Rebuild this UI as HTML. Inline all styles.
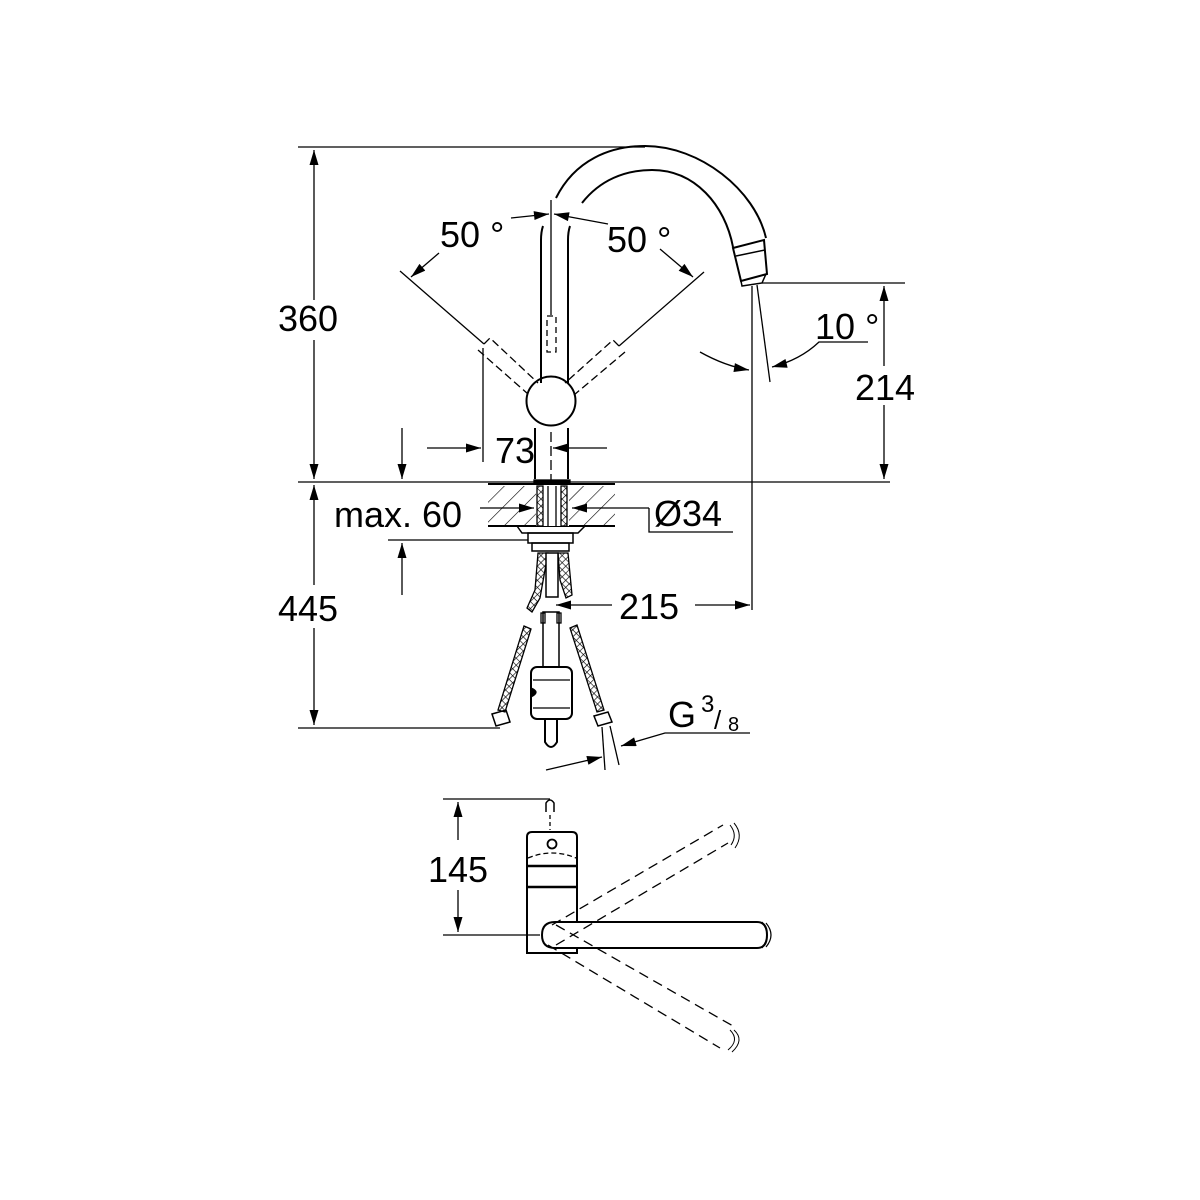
<!DOCTYPE html>
<html><head><meta charset="utf-8"><style>
html,body{margin:0;padding:0;background:#fff}
svg{display:block}
text{font-family:"Liberation Sans",sans-serif;fill:#000}
</style></head><body>
<svg width="1200" height="1200" viewBox="0 0 1200 1200" xmlns="http://www.w3.org/2000/svg">
<defs>
<marker id="a" viewBox="0 0 10 6" refX="10" refY="3" markerWidth="20" markerHeight="9" markerUnits="userSpaceOnUse" orient="auto"><path d="M0,0L10,3L0,6z" fill="#000"/></marker>
<pattern id="hatch" width="14" height="14" patternUnits="userSpaceOnUse" patternTransform="rotate(45)"><line x1="0" y1="0" x2="0" y2="14" stroke="#000" stroke-width="1.2"/></pattern>
<pattern id="mesh" width="5" height="5" patternUnits="userSpaceOnUse" patternTransform="rotate(45)"><rect width="5" height="5" fill="#fff"/><path d="M0,0H5M0,0V5" stroke="#000" stroke-width="1.3"/></pattern>
</defs>
<g fill="none" stroke="#000" stroke-width="1.3">
<line x1="298" y1="147" x2="645" y2="147"/>
<line x1="298" y1="482" x2="890" y2="482"/>
<line x1="314" y1="300" x2="314" y2="150" marker-end="url(#a)"/>
<line x1="314" y1="340" x2="314" y2="479" marker-end="url(#a)"/>
<line x1="314" y1="585" x2="314" y2="485" marker-end="url(#a)"/>
<line x1="314" y1="628" x2="314" y2="725" marker-end="url(#a)"/>
<line x1="298" y1="728" x2="500" y2="728"/>
<line x1="762" y1="283" x2="905" y2="283"/>
<line x1="884" y1="366" x2="884" y2="286" marker-end="url(#a)"/>
<line x1="884" y1="405" x2="884" y2="479" marker-end="url(#a)"/>
<path d="M556,198 C575,160 610,146 645,146 C700,146 755,190 766,238" stroke-width="2"/>
<path d="M582,203 C600,180 625,170 652,170 C695,170 725,205 733,247" stroke-width="2"/>
<path d="M733,248 L764,240 L767,274 L741,281 Z" stroke-width="2"/>
<line x1="736" y1="256" x2="765" y2="250" stroke-width="1.5"/>
<path d="M741,281 L742,286 L762,283 L766,274" stroke-width="1.5"/>
<path d="M541,383 L541,240 Q541,232 543,226" stroke-width="2"/>
<path d="M568,383 L568,240 Q568,232 570,226" stroke-width="2"/>
<line x1="551" y1="200" x2="551" y2="315"/>
<rect x="547" y="316" width="9" height="36" stroke-dasharray="6,4"/>
<line x1="535" y1="428" x2="535" y2="479" stroke-width="2"/>
<line x1="568" y1="428" x2="568" y2="479" stroke-width="2"/>
<line x1="551" y1="432" x2="551" y2="500" stroke-dasharray="10,4"/>
<circle cx="551" cy="401" r="24.5" stroke-width="2"/>
<line x1="400" y1="271" x2="484" y2="344"/>
<line x1="704" y1="272" x2="619" y2="346"/>
<path d="M484,344 L490,338 L538,383 M478,350 L528,394" stroke-dasharray="8,4"/>
<path d="M619,346 L613,340 L565,383 M625,352 L574,395" stroke-dasharray="8,4"/>
<line x1="483" y1="348" x2="483" y2="462"/>
<line x1="511" y1="218" x2="549" y2="214" marker-end="url(#a)"/>
<line x1="608" y1="224" x2="554" y2="214" marker-end="url(#a)"/>
<line x1="439" y1="253" x2="411" y2="277" marker-end="url(#a)"/>
<line x1="660" y1="249" x2="693" y2="277" marker-end="url(#a)"/>
<line x1="752" y1="286" x2="752" y2="610"/>
<line x1="757" y1="285" x2="770" y2="382"/>
<path d="M700,352 Q725,366 749,370" marker-end="url(#a)"/>
<path d="M868,342 L819,342 Q800,360 772,367" marker-end="url(#a)"/>
<line x1="427" y1="448" x2="481" y2="448" marker-end="url(#a)"/>
<line x1="607" y1="448" x2="553" y2="448" marker-end="url(#a)"/>
<line x1="402" y1="428" x2="402" y2="479" marker-end="url(#a)"/>
<rect x="488" y="486" width="127" height="40" fill="url(#hatch)" stroke="none"/>
<line x1="488" y1="484" x2="615" y2="484" stroke-width="2"/>
<line x1="488" y1="526" x2="615" y2="526" stroke-width="2"/>
<rect x="534" y="480" width="36" height="4" fill="#000"/>
<rect x="536" y="486" width="33" height="40" fill="#fff" stroke="none"/>
<rect x="537" y="486" width="6" height="40" fill="url(#mesh)"/>
<rect x="561" y="486" width="6" height="40" fill="url(#mesh)"/>
<line x1="548" y1="486" x2="548" y2="526"/><line x1="556" y1="486" x2="556" y2="526"/>
<path d="M517,526 L522,533 L578,533 L585,526" stroke-width="1.5"/>
<rect x="528" y="533" width="45" height="10" stroke-width="1.5"/>
<rect x="532" y="543" width="37" height="8" stroke-width="1.5"/>
<line x1="402" y1="595" x2="402" y2="543" marker-end="url(#a)"/>
<line x1="388" y1="540" x2="528" y2="540"/>
<line x1="480" y1="508" x2="534" y2="508" marker-end="url(#a)"/>
<line x1="649" y1="508" x2="572" y2="508" marker-end="url(#a)"/>
<path d="M649,508 L649,532 L733,532"/>
<path d="M538,553 L548,553 L540,598 L532,612 L527,608 L535,590 Z" fill="url(#mesh)"/>
<path d="M558,553 L568,553 L572,595 L566,598 L560,580 Z" fill="url(#mesh)"/>
<rect x="546" y="553" width="12" height="44" fill="#fff" stroke-width="1.5"/>
<path d="M524,626 L531,629 L505,712 L498,710 Z" fill="url(#mesh)"/>
<path d="M570,628 L577,625 L604,710 L597,712 Z" fill="url(#mesh)"/>
<path d="M492,714 L506,710 L510,722 L496,726 Z" stroke-width="1.5"/>
<path d="M594,716 L608,712 L612,722 L598,726 Z" stroke-width="1.5"/>
<line x1="602" y1="727" x2="605" y2="770"/>
<line x1="610" y1="726" x2="619" y2="765"/>
<rect x="543" y="612" width="16" height="55" stroke-width="1.5"/>
<rect x="541" y="613" width="4" height="10"/><rect x="557" y="613" width="4" height="10"/>
<rect x="531" y="667" width="41" height="52" rx="6" stroke-width="2"/>
<line x1="533" y1="680" x2="570" y2="680"/><line x1="533" y1="708" x2="570" y2="708"/>
<path d="M531,688 Q541,692 531,697" fill="#000"/>
<path d="M545,719 L545,742 Q551,752 557,742 L557,719" stroke-width="2"/>
<line x1="612" y1="605" x2="556" y2="605" marker-end="url(#a)"/>
<line x1="695" y1="605" x2="750" y2="605" marker-end="url(#a)"/>
<path d="M750,733 L665,733 L621,746" marker-end="url(#a)"/>
<line x1="546" y1="770" x2="602" y2="757" marker-end="url(#a)"/>
<line x1="443" y1="799" x2="550" y2="799"/>
<line x1="443" y1="935" x2="540" y2="935"/>
<line x1="458" y1="840" x2="458" y2="802" marker-end="url(#a)"/>
<line x1="458" y1="890" x2="458" y2="932" marker-end="url(#a)"/>
<path d="M546,812 L546,803 Q550,797 554,803 L554,812" stroke-width="1.5"/>
<line x1="550" y1="815" x2="550" y2="830" stroke-dasharray="4,3"/>
<path d="M527,837 Q527,832 532,832 L572,832 Q577,832 577,837 L577,953 L527,953 Z" stroke-width="2"/>
<circle cx="552" cy="844" r="4.5" stroke-width="1.8"/>
<path d="M528,858 Q552,848 576,858" stroke-dasharray="5,3"/>
<line x1="527" y1="866" x2="577" y2="866" stroke-width="2.5"/>
<line x1="527" y1="887" x2="577" y2="887" stroke-width="2.5"/>
<path d="M555,922 L757,922 Q767,922 767,935 Q767,948 757,948 L555,948 Q542,948 542,935 Q542,922 555,922 Z" fill="#fff" stroke-width="2"/>
<path d="M762,922 Q772,935 762,948 M766,923 Q776,935 766,947" stroke-width="1.2"/>
<path d="M552,925 L723,825 M556,945 L728,843" stroke-dasharray="10,6"/>
<path d="M556,925 L733,1026 M548,945 L720,1048" stroke-dasharray="10,6"/>
<path d="M730,825 Q738,835 731,845 M734,823 Q744,835 735,848" stroke-width="1"/>
<path d="M730,1030 Q740,1040 728,1050 M734,1030 Q745,1040 732,1052" stroke-width="1"/>
</g>
<g font-size="36">
<text x="278" y="331">360</text>
<text x="278" y="621">445</text>
<text x="855" y="400">214</text>
<text x="619" y="619">215</text>
<text x="495" y="463">73</text>
<text x="334" y="527">max. 60</text>
<text x="654" y="526">Ø34</text>
<text x="440" y="247">50 °</text>
<text x="607" y="252">50 °</text>
<text x="815" y="339">10 °</text>
<text x="428" y="882">145</text>
<text x="668" y="727">G</text>
<text x="701" y="712" font-size="24">3</text>
<text x="714" y="729" font-size="26">/</text>
<text x="728" y="731" font-size="20">8</text>
</g>
</svg>
</body></html>
